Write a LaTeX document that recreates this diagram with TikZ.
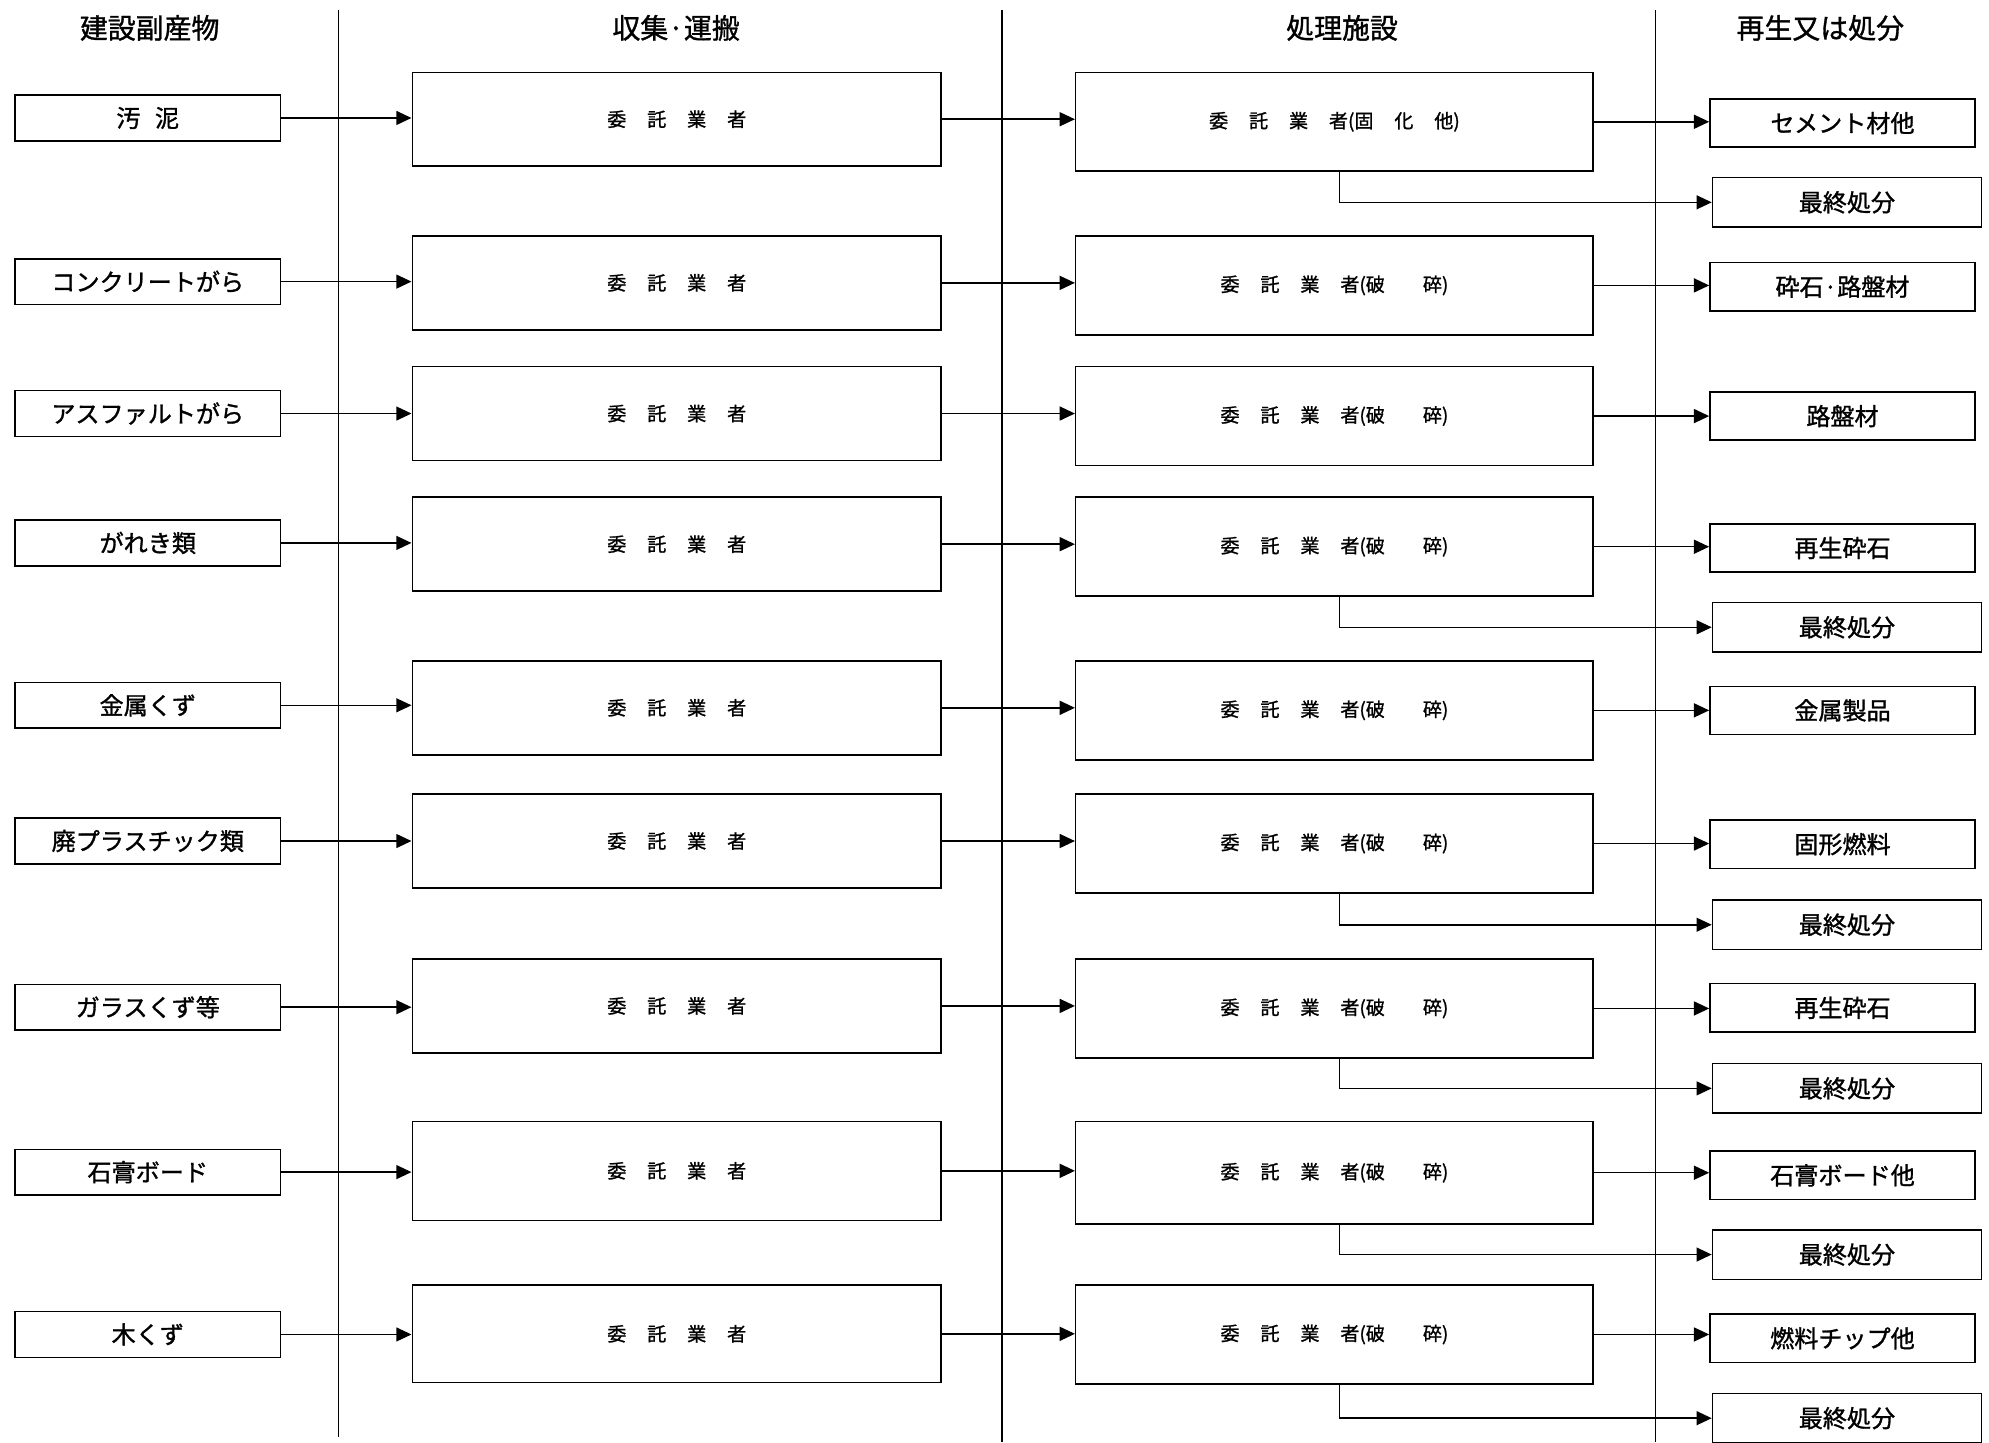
\documentclass[tikz,border=0pt]{standalone}
\usepackage{fontspec}
\setmainfont{Noto Sans CJK JP}[FakeBold=1.2]
\usetikzlibrary{arrows.meta}
\newcommand{\gp}{\hspace{1.1em}}
\begin{document}
\begin{tikzpicture}[x=1pt,y=-1pt,
  box/.style={draw,line width=1.2pt,inner sep=0pt},
  src/.style={box,minimum width=209pt,minimum height=36pt,font=\fontsize{19}{22}\selectfont},
  agent/.style={box,minimum width=417pt,minimum height=74pt,font=\fontsize{15}{18}\selectfont},
  proc/.style={box,minimum width=408pt,minimum height=78pt,font=\fontsize{15}{18}\selectfont},
  outb/.style={box,minimum width=209pt,minimum height=38pt,font=\fontsize{19}{22}\selectfont},
  fin/.style={box,minimum width=212pt,minimum height=39pt,font=\fontsize{19}{22}\selectfont},
  hdr/.style={font=\fontsize{22}{26}\selectfont,inner sep=0pt},
  arr/.style={line width=1.2pt,-{Triangle[length=12pt,width=11pt]}},
  sep/.style={line width=1pt}
]
\useasboundingbox (0,0) rectangle (1568,1137);
% headers
\node[hdr] (h1) at (118,22) {建設副産物};
\node[hdr] (h2) at (533,22) {収集·運搬};
\node[hdr] (h3) at (1058,22) {処理施設};
\node[hdr] (h4) at (1435,22) {再生又は処分};
% separators
\draw[sep] (267,8) -- (267,1133);
\draw[sep] (790,8) -- (790,1137);
\draw[sep] (1305,8) -- (1305,1137);

% column 1
\node[src] (a1) at (116.5,93) {汚\hspace{0.6em}泥};
\node[src] (a2) at (116.5,222) {コンクリートがら};
\node[src] (a3) at (116.5,326) {アスファルトがら};
\node[src] (a4) at (116.5,428) {がれき類};
\node[src] (a5) at (116.5,556) {金属くず};
\node[src] (a6) at (116.5,663) {廃プラスチック類};
\node[src] (a7) at (116.5,794) {ガラスくず等};
\node[src] (a8) at (116.5,924) {石膏ボード};
\node[src] (a9) at (116.5,1052) {木くず};

% column 2
\foreach \i/\y in {1/94,2/223,3/326,4/429,5/558,6/663,7/793}
  \node[agent] (b\i) at (533.5,\y) {委\gp 託\gp 業\gp 者};
\node[agent,minimum height=78pt] (b8) at (533.5,923) {委\gp 託\gp 業\gp 者};
\node[agent,minimum height=77pt] (b9) at (533.5,1051.5) {委\gp 託\gp 業\gp 者};

% column 3
\node[proc] (c1) at (1052,96) {委\gp 託\gp 業\gp 者(固\gp 化\gp 他)};
\foreach \i/\y in {2/225,3/328,4/431,5/560,6/665,7/795,9/1052}
  \node[proc] (c\i) at (1052,\y) {委\gp 託\gp 業\gp 者(破\hspace{2em}碎)};
\node[proc,minimum height=81pt] (c8) at (1052,924.5) {委\gp 託\gp 業\gp 者(破\hspace{2em}碎)};

% column 4
\node[outb] (d1) at (1452.5,97) {セメント材他};
\node[fin]  (e1) at (1456,159.5) {最終処分};
\node[outb] (d2) at (1452.5,226) {砕石·路盤材};
\node[outb] (d3) at (1452.5,328) {路盤材};
\node[outb] (d4) at (1452.5,432) {再生砕石};
\node[fin]  (e4) at (1456,494.5) {最終処分};
\node[outb] (d5) at (1452.5,560) {金属製品};
\node[outb] (d6) at (1452.5,665.5) {固形燃料};
\node[fin]  (e6) at (1456,729) {最終処分};
\node[outb] (d7) at (1452.5,794.5) {再生砕石};
\node[fin]  (e7) at (1456,858) {最終処分};
\node[outb] (d8) at (1452.5,926.5) {石膏ボード他};
\node[fin]  (e8) at (1456,989) {最終処分};
\node[outb] (d9) at (1452.5,1055) {燃料チップ他};
\node[fin]  (e9) at (1456,1118) {最終処分};

% arrows
\foreach \i in {1,...,9} {
  \draw[arr] (a\i.east) -- (a\i.east -| b\i.west);
  \draw[arr] (b\i.east) -- (b\i.east -| c\i.west);
  \draw[arr] (c\i.east) -- (c\i.east -| d\i.west);
}
\foreach \i in {1,4,6,7,8,9}
  \draw[arr] ([xshift=4pt]c\i.south) -- ([xshift=4pt]c\i.south |- e\i.west) -- (e\i.west);
\end{tikzpicture}
\end{document}
